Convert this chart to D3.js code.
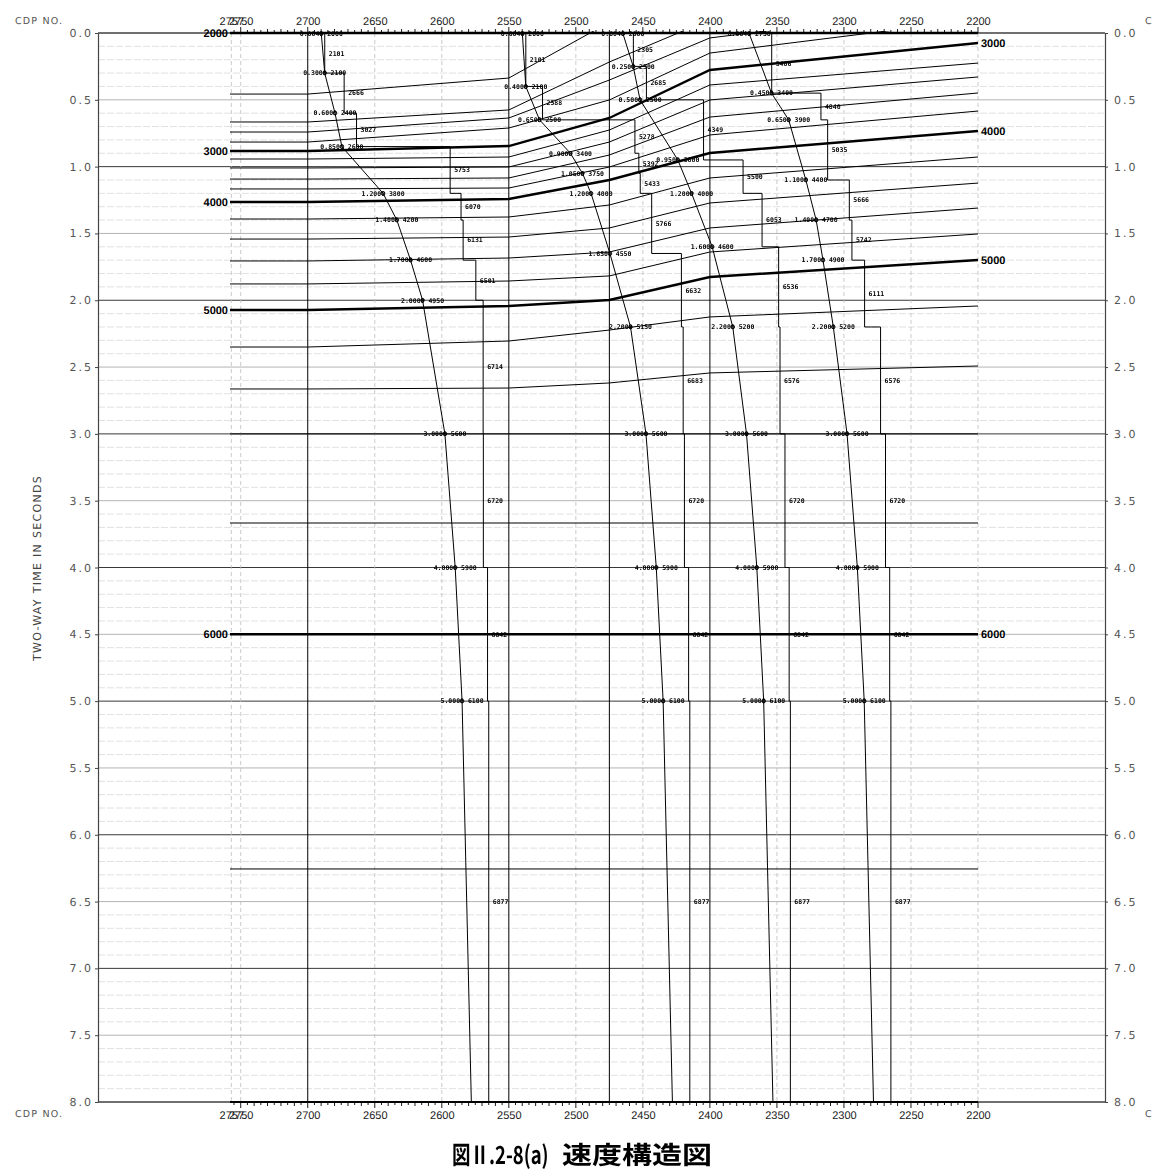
<!DOCTYPE html>
<html>
<head>
<meta charset="utf-8">
<script src="https://cdn.jsdelivr.net/npm/d3@7"></script>
<style>
  body { margin: 0; background: #fff; }
  svg text { text-rendering: geometricPrecision; }
</style>
</head>
<body>
<div id="container"></div>
<script>
// Page and plot geometry.
const width = 1168;
const height = 1173;
const frameLeft = 98;
const frameRight = 1105;
const plotLeft = 230;
const plotRight = 978;
const plotTop = 33;
const plotBottom = 1102;

// CDP tick labels (top and bottom) and time tick labels (left and right).
const cdpTicks = [2757, 2750, 2700, 2650, 2600, 2550, 2500, 2450, 2400, 2350, 2300, 2250, 2200];
const cdpGrid = [2757, 2750, 2650, 2600, 2500, 2450, 2350, 2300, 2250, 2200];
const timeTicks = d3.range(0, 8.001, 0.5);

// Iso-velocity contours: times (s) at the node CDPs.
const nodeCdps = [2758, 2700, 2550, 2475, 2400, 2200];
const contourValues = [2000, 2200, 2400, 2600, 2800, 3000, 3200, 3400, 3600, 3800, 4000,
  4200, 4400, 4600, 4800, 5000, 5200, 5400, 5600, 5800, 6000, 6200];
const contourTimes = [
  [0, 0, 0, 0, 0, 0],
  [0.457, 0.457, 0.337, -0.08, -0.40, -0.70],
  [0.666, 0.666, 0.576, 0.217, -0.10, -0.40],
  [0.741, 0.741, 0.636, 0.352, 0.037, -0.21],
  [0.816, 0.816, 0.711, 0.501, 0.150, -0.10],
  [0.883, 0.883, 0.846, 0.636, 0.277, 0.075],
  [0.943, 0.943, 0.928, 0.726, 0.389, 0.225],
  [1.010, 1.010, 1.003, 0.816, 0.501, 0.329],
  [1.093, 1.093, 1.085, 0.913, 0.629, 0.449],
  [1.167, 1.167, 1.160, 1.003, 0.763, 0.584],
  [1.265, 1.265, 1.242, 1.100, 0.898, 0.733],
  [1.392, 1.392, 1.377, 1.287, 1.085, 0.928],
  [1.542, 1.542, 1.527, 1.459, 1.272, 1.123],
  [1.706, 1.706, 1.684, 1.639, 1.459, 1.310],
  [1.878, 1.878, 1.856, 1.818, 1.639, 1.504],
  [2.073, 2.073, 2.043, 1.998, 1.826, 1.699],
  [2.350, 2.350, 2.305, 2.223, 2.125, 2.043],
  [2.664, 2.664, 2.657, 2.619, 2.544, 2.492],
  [3.0, 3.0, 3.0, 3.0, 3.0, 3.0],
  [3.667, 3.667, 3.667, 3.667, 3.667, 3.667],
  [4.5, 4.5, 4.5, 4.5, 4.5, 4.5],
  [6.256, 6.256, 6.256, 6.256, 6.256, 6.256]
];
const leftLabels = [2000, 3000, 4000, 5000, 6000];
const rightLabels = [3000, 4000, 5000, 6000];

// Velocity analyses: CDP, RMS picks [time, velocity], interval bounds and velocities.
const analysisCdps = [2700, 2550, 2475, 2400];

const rms1 = [[0.004, 2000], [0.3, 2100], [0.6, 2400], [0.85, 2600], [1.2, 3800], [1.4, 4200],
  [1.7, 4600], [2.0, 4950], [3.0, 5600], [4.0, 5900], [5.0, 6100], [8.0, 6370]];
const bounds1 = [0.004, 0.3, 0.6, 0.85, 1.2, 1.4, 1.7, 2.0, 3.0, 4.0, 5.0, 8.0];
const vint1 = [2101, 2666, 3027, 5753, 6070, 6131, 6501, 6714, 6720, 6842, 6877];

const rms2 = [[0.004, 2000], [0.4, 2100], [0.65, 2500], [0.9, 3400], [1.05, 3750], [1.2, 4000],
  [1.65, 4550], [2.2, 5150], [3.0, 5600], [4.0, 5900], [5.0, 6100], [8.0, 6370]];
const bounds2 = [0.004, 0.4, 0.65, 0.9, 1.05, 1.2, 1.65, 2.2, 3.0, 4.0, 5.0, 8.0];
const vint2 = [2101, 2588, 5278, 5392, 5433, 5766, 6632, 6683, 6720, 6842, 6877];

const rms3 = [[0.004, 2000], [0.25, 2300], [0.5, 2500], [0.95, 3600], [1.2, 4000], [1.6, 4600],
  [2.2, 5200], [3.0, 5600], [4.0, 5900], [5.0, 6100], [8.0, 6370]];
const bounds3 = [0.004, 0.25, 0.5, 0.95, 1.2, 1.6, 2.2, 3.0, 4.0, 5.0, 8.0];
const vint3 = [2305, 2685, 4349, 5500, 6053, 6536, 6576, 6720, 6842, 6877];

const rms4 = [[0.004, 2750], [0.45, 3400], [0.65, 3900], [1.1, 4400], [1.4, 4700], [1.7, 4900],
  [2.2, 5200], [3.0, 5600], [4.0, 5900], [5.0, 6100], [8.0, 6370]];
const bounds4 = [0.004, 0.45, 0.65, 1.1, 1.4, 1.7, 2.2, 3.0, 4.0, 5.0, 8.0];
const vint4 = [3406, 4840, 5035, 5666, 5742, 6111, 6576, 6720, 6842, 6877];

const analyses = [
  { cdp: analysisCdps[0], rms: rms1, bounds: bounds1, vint: vint1 },
  { cdp: analysisCdps[1], rms: rms2, bounds: bounds2, vint: vint2 },
  { cdp: analysisCdps[2], rms: rms3, bounds: bounds3, vint: vint3 },
  { cdp: analysisCdps[3], rms: rms4, bounds: bounds4, vint: vint4 }
];

const titleLeft = "図Ⅱ.2-8(a)";
const titleRight = "速度構造図";

// Scales.
const x = d3.scaleLinear().domain([2758, 2200]).range([plotLeft, plotRight]);
const y = d3.scaleLinear().domain([0, 8]).range([plotTop, plotBottom]);
// velocity offset to the right of each analysis line
const vel = d3.scaleLinear().domain([1606, 6877]).range([0, 181]);

const svg = d3.select("#container").append("svg")
  .attr("width", width)
  .attr("height", height)
  .style("font-family", "'Liberation Sans', Arial, sans-serif");

const defs = svg.append("defs");
defs.append("clipPath").attr("id", "plot")
  .append("rect")
  .attr("x", plotLeft).attr("y", plotTop - 2)
  .attr("width", plotRight - plotLeft).attr("height", plotBottom - plotTop + 2);
defs.append("clipPath").attr("id", "page")
  .append("rect").attr("x", 0).attr("y", 0).attr("width", 1152).attr("height", height);
// greyscale filter so tiny text renders without colour fringes
defs.append("filter").attr("id", "grey")
  .attr("x", 0).attr("y", 0).attr("width", 1).attr("height", 1)
  .attr("filterUnits", "userSpaceOnUse")
  .attr("x", 0).attr("y", 0).attr("width", width).attr("height", height)
  .append("feColorMatrix").attr("type", "saturate").attr("values", 0);

// Time grid: 0.1 s light, 0.5 s grey, 1 s black.
const grid = svg.append("g");
d3.range(0, 80).forEach(i => {
  const t = i / 10;
  if (i % 5 === 0) return;
  grid.append("line")
    .attr("x1", frameLeft).attr("x2", frameRight)
    .attr("y1", y(t)).attr("y2", y(t))
    .attr("stroke", "#d4d4d4").attr("stroke-width", 0.7)
    .attr("stroke-dasharray", "7,2");
});
timeTicks.forEach(t => {
  const whole = Math.abs(t - Math.round(t)) < 1e-6;
  grid.append("line")
    .attr("x1", frameLeft).attr("x2", frameRight)
    .attr("y1", y(t)).attr("y2", y(t))
    .attr("stroke", whole ? "#222" : "#ababab")
    .attr("stroke-width", 0.9);
});
cdpGrid.forEach(c => {
  grid.append("line")
    .attr("x1", x(c)).attr("x2", x(c))
    .attr("y1", plotTop).attr("y2", plotBottom)
    .attr("stroke", "#bdbdbd").attr("stroke-width", 0.8)
    .attr("stroke-dasharray", "4,3");
});

// Frame and time axes.
const axisLeft = svg.append("g")
  .attr("transform", `translate(${frameLeft},0)`)
  .call(d3.axisLeft(y).tickValues(timeTicks).tickSize(3).tickSizeOuter(0)
    .tickPadding(2).tickFormat(d3.format(".1f")));
const axisRight = svg.append("g")
  .attr("transform", `translate(${frameRight},0)`)
  .call(d3.axisRight(y).tickValues(timeTicks).tickSize(3).tickSizeOuter(0)
    .tickPadding(6).tickFormat(d3.format(".1f")));
[axisLeft, axisRight].forEach(g => {
  g.select(".domain").attr("stroke", "#444").attr("stroke-width", 1.2);
  g.selectAll(".tick line").attr("stroke", "#444");
  g.selectAll(".tick text")
    .attr("fill", "#555")
    .style("font-family", "'DejaVu Sans', sans-serif")
    .style("font-size", "11px")
    .style("letter-spacing", "2px");
});
svg.append("line")
  .attr("x1", frameLeft).attr("x2", frameRight)
  .attr("y1", plotTop).attr("y2", plotTop)
  .attr("stroke", "#444").attr("stroke-width", 1);
svg.append("line")
  .attr("x1", frameLeft).attr("x2", frameRight)
  .attr("y1", plotBottom).attr("y2", plotBottom)
  .attr("stroke", "#444").attr("stroke-width", 1);

// CDP rulers, top and bottom.
const rulerTicks = d3.range(2755, 2199, -5);
[[plotTop, -1], [plotBottom, 1]].forEach(([yy, dir]) => {
  svg.append("line")
    .attr("x1", plotLeft).attr("x2", plotRight)
    .attr("y1", yy).attr("y2", yy)
    .attr("stroke", "#000").attr("stroke-width", 2.2);
  rulerTicks.forEach(c => {
    const len = c % 50 === 0 ? 6 : (c % 10 === 0 ? 4 : 3);
    svg.append("line")
      .attr("x1", x(c)).attr("x2", x(c))
      .attr("y1", yy).attr("y2", yy + dir * len)
      .attr("stroke", "#000").attr("stroke-width", 0.9);
  });
});

const axisTop = svg.append("g")
  .attr("transform", `translate(0,${plotTop})`)
  .call(d3.axisTop(x).tickValues(cdpTicks).tickSize(0).tickPadding(8).tickFormat(d3.format("d")));
const axisBottom = svg.append("g")
  .attr("transform", `translate(0,${plotBottom})`)
  .call(d3.axisBottom(x).tickValues(cdpTicks).tickSize(0).tickPadding(9).tickFormat(d3.format("d")));
[axisTop, axisBottom].forEach(g => {
  g.select(".domain").remove();
  g.selectAll(".tick text")
    .attr("fill", "#222")
    .style("font-family", "'Liberation Sans', Arial, sans-serif")
    .style("font-size", "11px");
});

// Axis captions.
const caption = (txt, xx, yy) => svg.append("text")
  .attr("x", xx).attr("y", yy)
  .attr("fill", "#555")
  .style("font-family", "'DejaVu Sans', sans-serif")
  .style("font-size", "9.5px")
  .style("letter-spacing", "1.2px")
  .text(txt);
caption("CDP NO.", 15, 24);
caption("CDP NO.", 15, 1117);
caption("CDP NO.", 1145, 24).attr("clip-path", "url(#page)");
caption("CDP NO.", 1145, 1117).attr("clip-path", "url(#page)");

svg.append("text")
  .attr("transform", `translate(41,568) rotate(-90)`)
  .attr("text-anchor", "middle")
  .attr("fill", "#444")
  .style("font-family", "'DejaVu Sans', sans-serif")
  .style("font-size", "11px")
  .style("letter-spacing", "1.3px")
  .text("TWO-WAY TIME IN SECONDS");

// Contours.
const plot = svg.append("g");
const contourLine = d3.line()
  .x((d, i) => x(nodeCdps[i]))
  .y(d => y(d));
const contours = plot.append("g").attr("clip-path", "url(#plot)");
contourValues.forEach((v, k) => {
  const thick = v % 1000 === 0;
  contours.append("path")
    .attr("d", contourLine(contourTimes[k]))
    .attr("fill", "none")
    .attr("stroke", "#000")
    .attr("stroke-width", thick ? 2.4 : 1);
});
contourValues.forEach((v, k) => {
  const ts = contourTimes[k];
  if (leftLabels.includes(v)) {
    plot.append("text")
      .attr("x", plotLeft - 2).attr("y", y(ts[0]) + 4)
      .attr("text-anchor", "end")
      .style("font-size", "11px").style("font-weight", "bold")
      .text(v);
  }
  if (rightLabels.includes(v)) {
    plot.append("text")
      .attr("x", plotRight + 3).attr("y", y(ts[ts.length - 1]) + 4)
      .style("font-size", "11px").style("font-weight", "bold")
      .text(v);
  }
});

// Velocity analyses.
const monoSize = 6.5;
const charW = monoSize * 0.602;
const rmsLine = d3.line();
const mono = svg.append("g")
  .attr("filter", "url(#grey)")
  .style("font-family", "'DejaVu Sans Mono', monospace")
  .style("font-size", monoSize + "px")
  .style("font-weight", "bold");

analyses.forEach(a => {
  const x0 = x(a.cdp);
  plot.append("line")
    .attr("x1", x0).attr("x2", x0)
    .attr("y1", plotTop).attr("y2", plotBottom)
    .attr("stroke", "#000").attr("stroke-width", 1);

  // RMS velocity curve
  plot.append("path")
    .attr("d", rmsLine(a.rms.map(([t, v]) => [x0 + vel(v), y(t)])))
    .attr("fill", "none").attr("stroke", "#000").attr("stroke-width", 1);

  // interval velocity steps
  const steps = [];
  a.vint.forEach((v, i) => {
    steps.push([x0 + vel(v), y(a.bounds[i])]);
    steps.push([x0 + vel(v), y(a.bounds[i + 1])]);
  });
  plot.append("path")
    .attr("d", d3.line()(steps))
    .attr("fill", "none").attr("stroke", "#000").attr("stroke-width", 1);

  a.vint.forEach((v, i) => {
    mono.append("text")
      .attr("x", x0 + vel(v) + 4)
      .attr("y", y((a.bounds[i] + a.bounds[i + 1]) / 2) + 2.3)
      .text(v);
  });

  a.rms.slice(0, -1).forEach(([t, v]) => {
    const px = x0 + vel(v), py = y(t);
    mono.append("text")
      .attr("x", px - 5.5 * charW)
      .attr("y", py + 2.3)
      .text(`${t.toFixed(4)} ${v}`);
    mono.append("circle")
      .attr("cx", px).attr("cy", py).attr("r", 1.8)
      .attr("fill", "none").attr("stroke", "#000").attr("stroke-width", 0.9);
  });
});

// Title.
const title = svg.append("g")
  .attr("filter", "url(#grey)")
  .style("font-family", "'Noto Sans CJK JP', sans-serif")
  .style("font-weight", "bold")
  .style("font-size", "25px");
title.append("text")
  .attr("transform", "translate(452,1164) scale(0.74,1)")
  .text(titleLeft);
title.append("text")
  .attr("x", 562).attr("y", 1164)
  .attr("textLength", 150).attr("lengthAdjust", "spacingAndGlyphs")
  .text(titleRight);
</script>
</body>
</html>
